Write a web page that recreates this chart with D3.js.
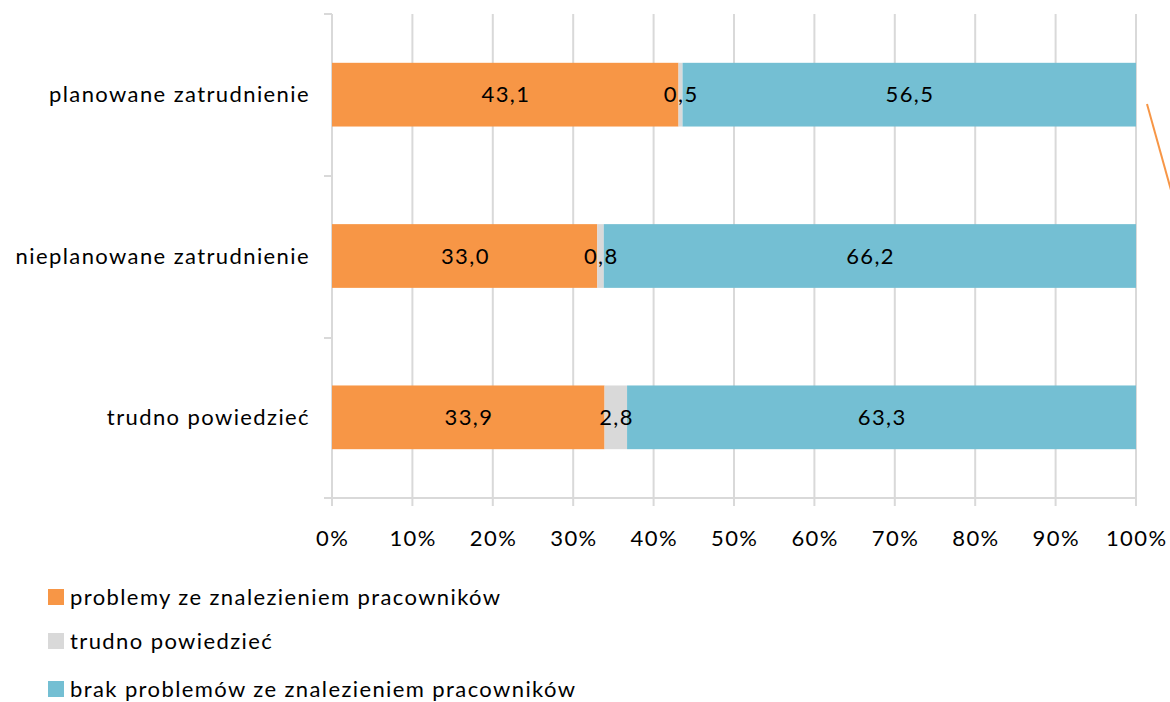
<!DOCTYPE html>
<html><head><meta charset="utf-8">
<script src="https://cdn.jsdelivr.net/npm/d3@7"></script>
<style>body{margin:0;background:#fff}svg{display:block}text{font-family:Lato,"Open Sans",sans-serif;fill:#000;letter-spacing:1.4px}</style>
</head><body><svg id="c" width="1170" height="702"></svg>
<script>
const categories = ["planowane zatrudnienie","nieplanowane zatrudnienie","trudno powiedzieć"];
const seriesNames = ["problemy ze znalezieniem pracowników","trudno powiedzieć","brak problemów ze znalezieniem pracowników"];
const problemy = [43.1, 33.0, 33.9];
const trudno = [0.5, 0.8, 2.8];
const brak = [56.5, 66.2, 63.3];
const ticks = [0,10,20,30,40,50,60,70,80,90,100];
const colors = ["#F79646","#D9D9D9","#74BFD3"];

const svg = d3.select("#c");
const x = d3.scaleLinear().domain([0,100]).range([332,1136]);
const y = d3.scaleBand().domain(categories).range([14,498]).paddingInner(0.605).paddingOuter(0.3025);
const fmt = v => v.toFixed(1).replace(".", ",");
const FS = 22;

// gridlines
svg.append("g").selectAll("line").data(ticks).join("line")
  .attr("x1",d=>x(d)).attr("x2",d=>x(d)).attr("y1",14).attr("y2",506)
  .attr("stroke","#D9D9D9").attr("stroke-width",2);
// left axis
svg.append("line").attr("x1",332).attr("x2",332).attr("y1",14).attr("y2",498).attr("stroke","#D9D9D9").attr("stroke-width",2);
const bandEdges = [14,176,338,498];
svg.append("g").selectAll("line").data(bandEdges).join("line")
  .attr("x1",324).attr("x2",332).attr("y1",d=>d).attr("y2",d=>d).attr("stroke","#D9D9D9").attr("stroke-width",2);
// bottom axis
svg.append("line").attr("x1",324).attr("x2",1136).attr("y1",498).attr("y2",498).attr("stroke","#D9D9D9").attr("stroke-width",2);

// stacked bars
const data = categories.map((c,i)=>({cat:c, vals:[problemy[i],trudno[i],brak[i]]}));
const segs = [];
data.forEach(d=>{let acc=0; d.vals.forEach((v,k)=>{segs.push({cat:d.cat,k,v,x0:acc,x1:acc+v}); acc+=v;});});
svg.append("g").selectAll("rect").data(segs).join("rect")
  .attr("x",d=>x(d.x0)).attr("width",d=>x(Math.min(d.x1,100))-x(d.x0))
  .attr("y",d=>y(d.cat)).attr("height",y.bandwidth()).attr("fill",d=>colors[d.k]);
svg.append("g").selectAll("text").data(segs).join("text")
  .attr("x",d=>x((d.x0+Math.min(d.x1,100))/2)+0.7).attr("y",d=>y(d.cat)+y.bandwidth()/2)
  .attr("dy","0.35em").attr("text-anchor","middle").attr("font-size",FS).text(d=>fmt(d.v));

// category labels
svg.append("g").selectAll("text").data(categories).join("text")
  .attr("x",310).attr("y",d=>y(d)+y.bandwidth()/2).attr("dy","0.35em")
  .attr("text-anchor","end").attr("font-size",FS).text(d=>d);

// tick labels
svg.append("g").selectAll("text").data(ticks).join("text")
  .attr("x",d=>x(d)+0.7).attr("y",538).attr("dy","0.35em").attr("text-anchor","middle")
  .attr("font-size",FS).text(d=>d+"%");

// leader line (cut off)
svg.append("line").attr("x1",1147).attr("y1",104).attr("x2",1171).attr("y2",190)
  .attr("stroke","#F79646").attr("stroke-width",2);

// legend
const ly = [597,641,689];
const lg = svg.append("g").selectAll("g").data(seriesNames).join("g")
  .attr("transform",(d,i)=>`translate(48,${ly[i]})`);
lg.append("rect").attr("x",0).attr("y",-8).attr("width",16).attr("height",16).attr("fill",(d,i)=>colors[i]);
lg.append("text").attr("x",22).attr("y",0).attr("dy","0.35em").attr("font-size",FS).text(d=>d);
</script></body></html>
